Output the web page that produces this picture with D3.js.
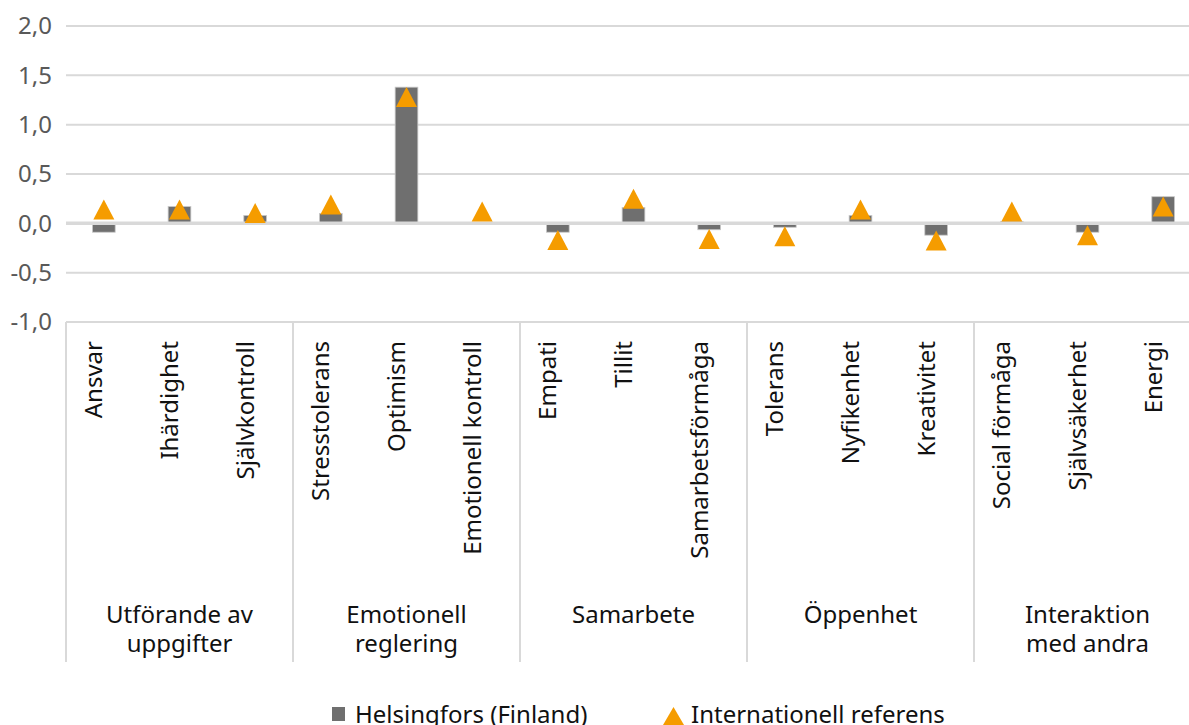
<!DOCTYPE html>
<html>
<head>
<meta charset="utf-8">
<script src="https://cdn.jsdelivr.net/npm/d3@7"></script>
<style>
  html, body { margin: 0; padding: 0; background: #fff; }
  svg { display: block; font-family: "Noto Sans", "Open Sans", sans-serif; }
</style>
</head>
<body>
<svg id="chart" width="1189" height="725"></svg>
<script>
// Skill profile: Helsinki compared with the international reference
const categories = [
  "Ansvar", "Ihärdighet", "Självkontroll",
  "Stresstolerans", "Optimism", "Emotionell kontroll",
  "Empati", "Tillit", "Samarbetsförmåga",
  "Tolerans", "Nyfikenhet", "Kreativitet",
  "Social förmåga", "Självsäkerhet", "Energi"
];
const groups = [
  ["Utförande av", "uppgifter"],
  ["Emotionell", "reglering"],
  ["Samarbete"],
  ["Öppenhet"],
  ["Interaktion", "med andra"]
];
const groupSize = 3;
const helsingforsValues = [-0.09, 0.17, 0.08, 0.10, 1.38, 0.00, -0.09, 0.16, -0.065, -0.04, 0.08, -0.12, 0.02, -0.09, 0.27];
const referenceValues   = [0.14, 0.14, 0.105, 0.19, 1.28, 0.12, -0.17, 0.25, -0.16, -0.13, 0.14, -0.175, 0.12, -0.12, 0.17];
const yTicks = [-1.0, -0.5, 0.0, 0.5, 1.0, 1.5, 2.0];
const seriesNames = ["Helsingfors (Finland)", "Internationell referens"];

const barColor = "#6f6f6f";
const markerColor = "#f59c00";
const gridColor = "#d9d9d9";
const fontSize = 24;

const svg = d3.select("#chart");
const plot = { left: 66, right: 1201, top: 26, bottom: 322 };

const x = d3.scaleBand()
  .domain(categories)
  .range([plot.left, plot.right])
  .paddingInner(0.7)
  .paddingOuter(0.35);
const step = x.step();

const y = d3.scaleLinear().domain([-1, 2]).range([plot.bottom, plot.top]);
const fmt = v => d3.format(".1f")(v).replace(".", ",").replace("−", "-");

// horizontal gridlines
svg.append("g")
  .selectAll("line")
  .data(yTicks.filter(t => t !== 0))
  .join("line")
  .attr("x1", plot.left).attr("x2", plot.right)
  .attr("y1", d => y(d)).attr("y2", d => y(d))
  .attr("stroke", gridColor).attr("stroke-width", 2);

// y axis labels
const yAxis = d3.axisLeft(y).tickValues(yTicks).tickFormat(fmt).tickSize(0).tickPadding(14);
svg.append("g")
  .attr("transform", `translate(${plot.left},0)`)
  .call(yAxis)
  .call(g => g.select(".domain").remove())
  .call(g => g.selectAll("text")
    .attr("font-size", fontSize)
    .attr("font-family", "Noto Sans, Open Sans, sans-serif")
    .attr("fill", "#595959"));

// bars
svg.append("g")
  .selectAll("rect")
  .data(helsingforsValues)
  .join("rect")
  .attr("x", (d, i) => x(categories[i]))
  .attr("width", x.bandwidth())
  .attr("y", d => y(Math.max(0, d)))
  .attr("height", d => Math.abs(y(d) - y(0)))
  .attr("fill", barColor)
  .attr("stroke", "#c8c8c8")
  .attr("stroke-width", 0.8);

// zero line
svg.append("line")
  .attr("x1", plot.left).attr("x2", plot.right)
  .attr("y1", y(0)).attr("y2", y(0))
  .attr("stroke", gridColor).attr("stroke-width", 3.5);

// reference markers
const triW = 21, triH = 20;
const triPath = `M0,${-triH / 2}L${triW / 2},${triH / 2}L${-triW / 2},${triH / 2}Z`;
svg.append("g")
  .selectAll("path")
  .data(referenceValues)
  .join("path")
  .attr("d", triPath)
  .attr("transform", (d, i) => `translate(${x(categories[i]) + x.bandwidth() / 2},${y(d)})`)
  .attr("fill", markerColor);

// category axis: group dividers
const axisBottom = 662;
const dividerIdx = d3.range(0, categories.length, groupSize);
svg.append("g")
  .selectAll("line")
  .data(dividerIdx)
  .join("line")
  .attr("x1", i => plot.left + i * step)
  .attr("x2", i => plot.left + i * step)
  .attr("y1", plot.bottom).attr("y2", axisBottom)
  .attr("stroke", gridColor).attr("stroke-width", 2);

// category labels (rotated)
svg.append("g")
  .selectAll("text")
  .data(categories)
  .join("text")
  .attr("transform", d => `translate(${x(d) + x.bandwidth() / 2 - 1.5},341) rotate(-90)`)
  .attr("text-anchor", "end")
  .attr("font-size", fontSize)
  .attr("fill", "#111")
  .text(d => d);

// group labels
const groupText = svg.append("g")
  .selectAll("text")
  .data(groups)
  .join("text")
  .attr("x", (d, i) => plot.left + (i * groupSize + groupSize / 2) * step)
  .attr("y", 623)
  .attr("text-anchor", "middle")
  .attr("font-size", fontSize)
  .attr("fill", "#111");
groupText.selectAll("tspan")
  .data(d => d)
  .join("tspan")
  .attr("x", function () { return d3.select(this.parentNode).attr("x"); })
  .attr("dy", (d, j) => j === 0 ? 0 : 29)
  .text(d => d);

// legend
const legend = svg.append("g");
legend.append("rect")
  .attr("x", 332).attr("y", 707).attr("width", 13).attr("height", 14)
  .attr("fill", barColor);
legend.append("text")
  .attr("x", 355).attr("y", 723)
  .attr("font-size", fontSize).attr("fill", "#111")
  .text(seriesNames[0]);
legend.append("path")
  .attr("d", `M0,-8L10.5,10L-10.5,10Z`)
  .attr("transform", "translate(673.5,715)")
  .attr("fill", markerColor);
legend.append("text")
  .attr("x", 691).attr("y", 723)
  .attr("font-size", fontSize).attr("fill", "#111")
  .text(seriesNames[1]);
</script>
</body>
</html>
